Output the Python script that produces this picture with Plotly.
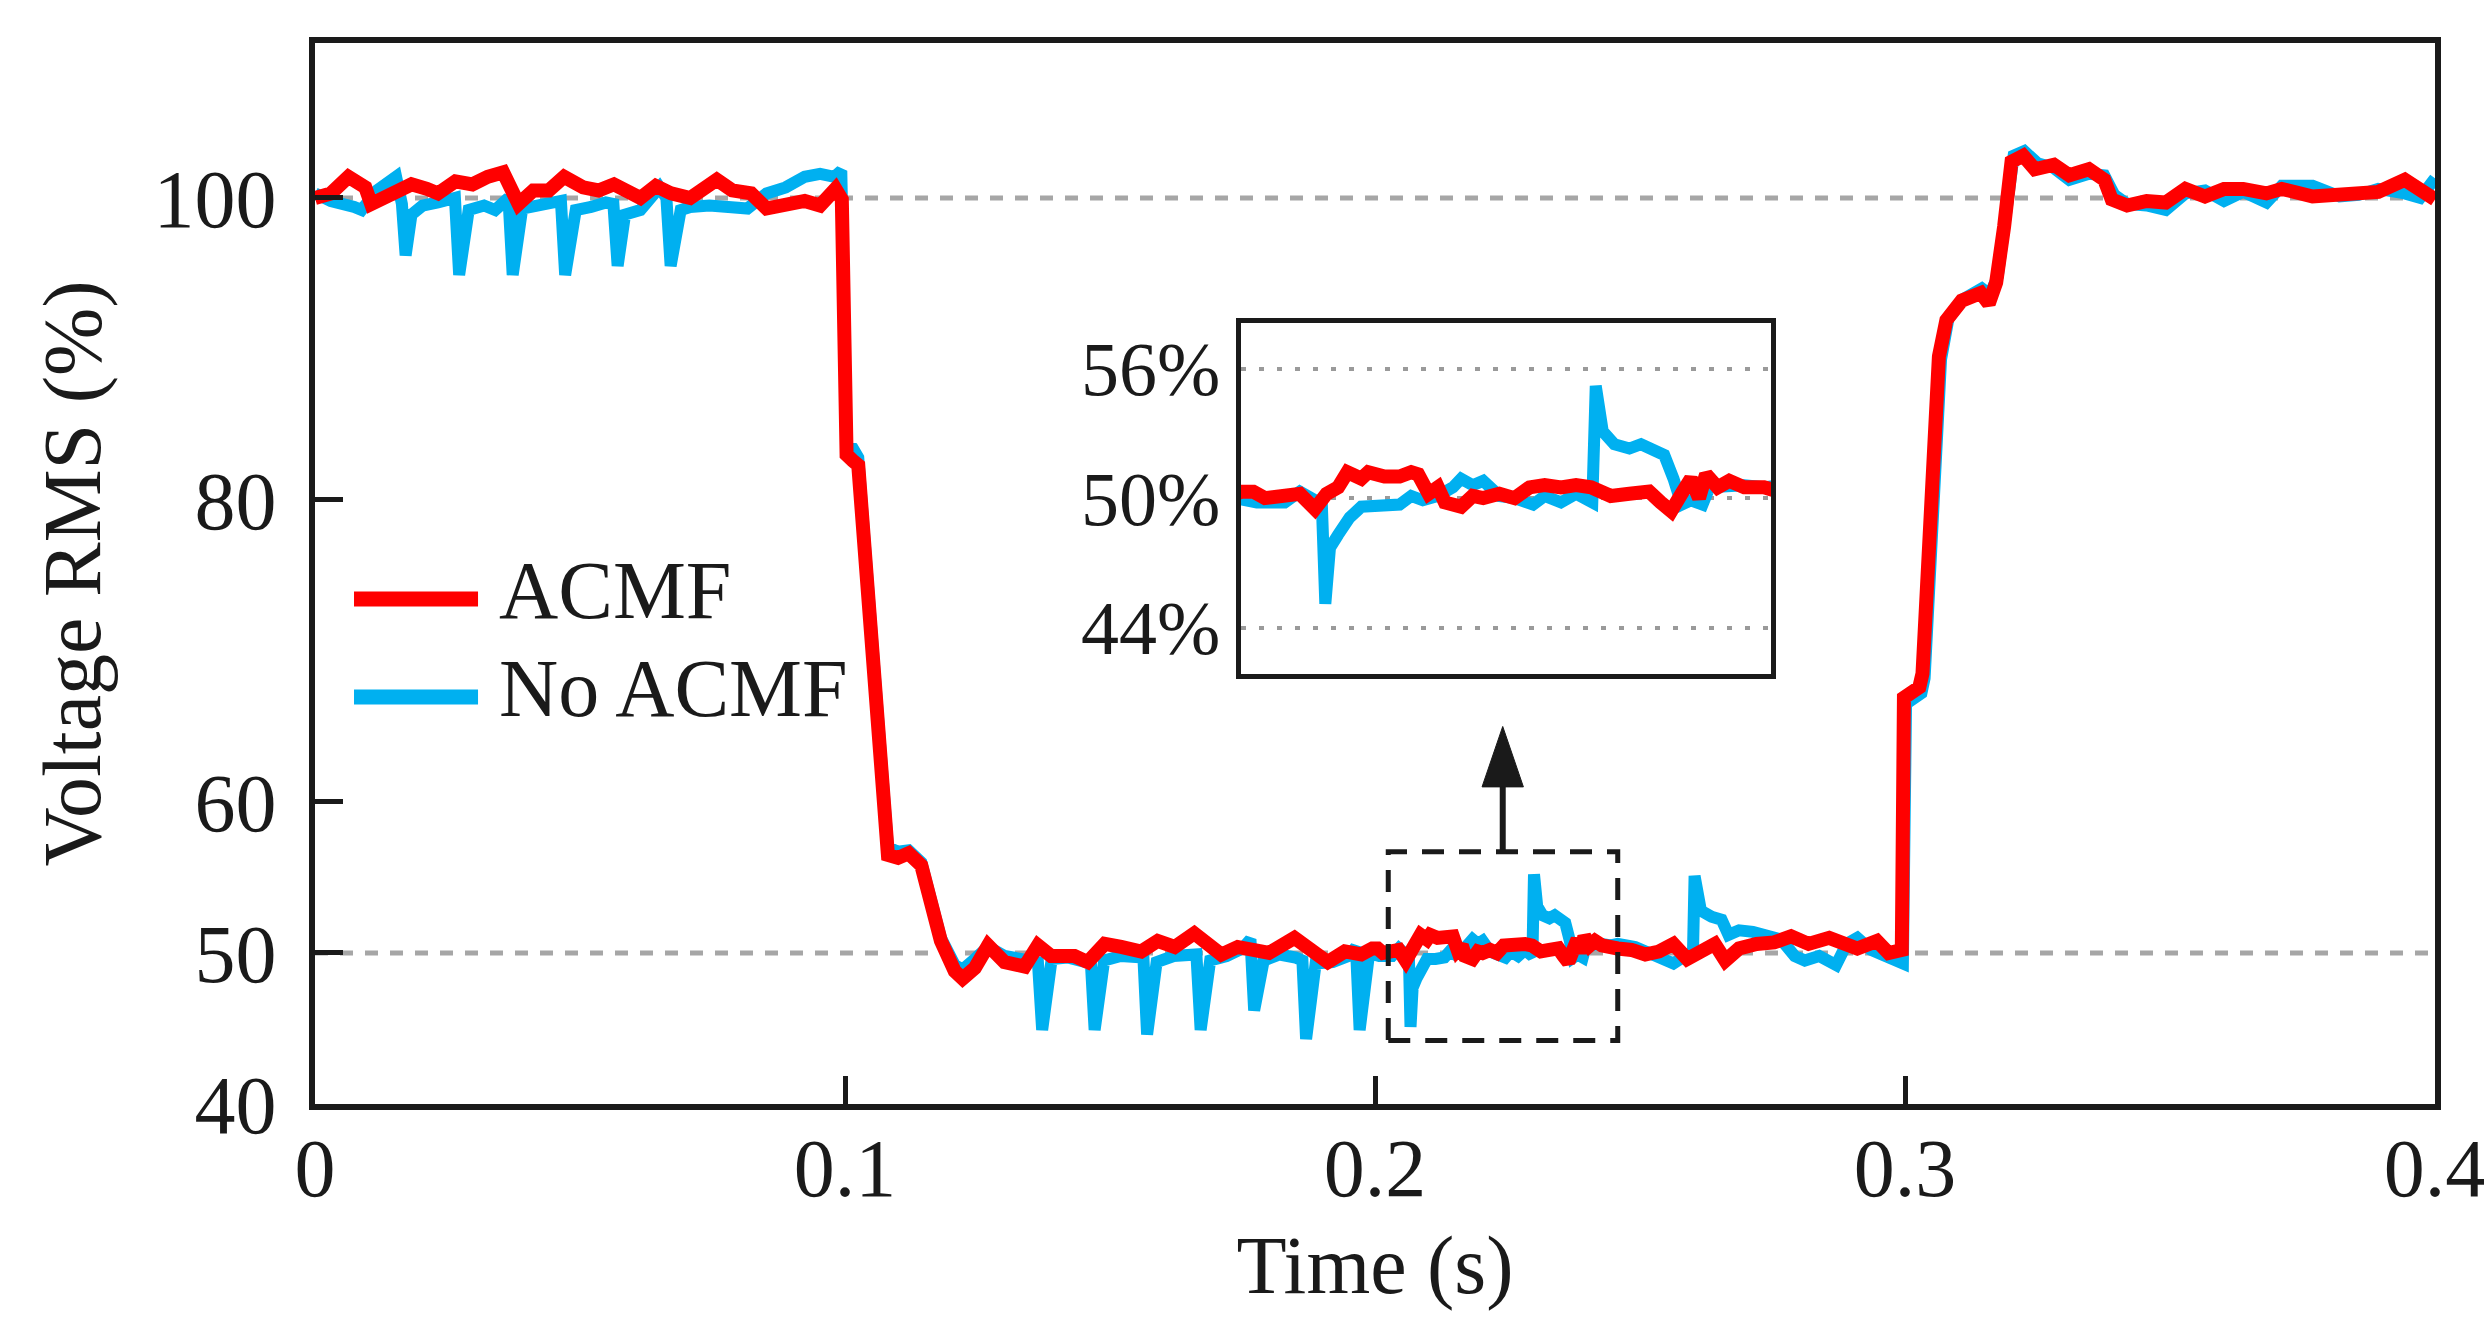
import plotly.graph_objects as go

# ─────────────────────────────────────────────
# Data (RMS voltage in % of nominal)
# ─────────────────────────────────────────────

t_acmf = [
    0.0000, 0.0030, 0.0063, 0.0095, 0.0106, 0.0131, 0.0160, 0.0182, 0.0211, 0.0232,
    0.0265, 0.0297, 0.0326, 0.0355, 0.0384, 0.0412, 0.0441, 0.0470, 0.0506, 0.0535,
    0.0564, 0.0592, 0.0614, 0.0643, 0.0672, 0.0708, 0.0758, 0.0787, 0.0823, 0.0852,
    0.0888, 0.0924, 0.0953, 0.0982, 0.0994, 0.1003, 0.1015, 0.1025, 0.1081, 0.1100,
    0.1120, 0.1144, 0.1181, 0.1207, 0.1222, 0.1245, 0.1270, 0.1301, 0.1339, 0.1364,
    0.1389, 0.1433, 0.1458, 0.1490, 0.1521, 0.1559, 0.1590, 0.1622, 0.1659, 0.1685,
    0.1710, 0.1741, 0.1773, 0.1800, 0.1848, 0.1886, 0.1911, 0.1943, 0.1974, 0.1995,
    0.2005, 0.2015, 0.2032, 0.2045, 0.2058, 0.2068, 0.2078, 0.2086, 0.2098, 0.2104,
    0.2118, 0.2131, 0.2141, 0.2147, 0.2156, 0.2164, 0.2170, 0.2184, 0.2194, 0.2203,
    0.2217, 0.2230, 0.2243, 0.2256, 0.2270, 0.2283, 0.2296, 0.2313, 0.2329, 0.2346,
    0.2356, 0.2365, 0.2375, 0.2382, 0.2389, 0.2395, 0.2405, 0.2415, 0.2428, 0.2445,
    0.2458, 0.2484, 0.2510, 0.2536, 0.2563, 0.2589, 0.2615, 0.2641, 0.2661, 0.2687,
    0.2720, 0.2753, 0.2785, 0.2818, 0.2857, 0.2884, 0.2910, 0.2947, 0.2969, 0.2994,
    0.2998, 0.3027, 0.3033, 0.3064, 0.3078, 0.3107, 0.3143, 0.3158, 0.3172, 0.3187,
    0.3201, 0.3223, 0.3245, 0.3281, 0.3310, 0.3347, 0.3376, 0.3390, 0.3419, 0.3456,
    0.3492, 0.3529, 0.3566, 0.3602, 0.3638, 0.3682, 0.3711, 0.3769, 0.3820, 0.3856,
    0.3893, 0.3943, 0.3972, 0.4000,
]
v_acmf = [
    100.0, 100.3, 101.4, 100.7, 99.6, 100.0, 100.3, 100.9, 100.6, 100.3,
    101.1, 100.9, 101.4, 101.7, 99.6, 100.5, 100.5, 101.4, 100.7, 100.5,
    100.9, 100.3, 100.0, 100.8, 100.3, 100.0, 101.2, 100.5, 100.3, 99.3,
    99.5, 99.8, 99.5, 100.6, 99.9, 83.0, 82.6, 82.3, 56.5, 56.3,
    56.6, 55.8, 50.8, 48.8, 48.3, 49.0, 50.5, 49.4, 49.1, 50.5,
    49.8, 49.8, 49.4, 50.6, 50.4, 50.1, 50.8, 50.4, 51.3, 50.7,
    49.9, 50.4, 50.2, 50.0, 51.0, 50.0, 49.4, 50.1, 49.9, 50.3,
    50.3, 50.0, 50.1, 50.2, 49.5, 50.2, 50.5, 51.2, 50.9, 51.2,
    51.0, 51.0, 51.2, 51.1, 50.2, 50.5, 49.8, 49.6, 50.1, 50.0,
    50.2, 50.0, 50.5, 50.6, 50.5, 50.6, 50.5, 50.1, 50.2, 50.3,
    49.8, 49.4, 50.3, 50.9, 50.0, 51.1, 50.5, 50.8, 50.5, 50.5,
    50.3, 50.2, 49.9, 50.1, 50.6, 49.6, 50.1, 50.6, 49.5, 50.3,
    50.6, 50.7, 51.1, 50.6, 51.0, 50.7, 50.3, 50.8, 50.0, 50.2,
    66.9, 67.6, 68.5, 89.5, 91.9, 93.2, 93.7, 93.0, 94.4, 98.1,
    102.4, 102.8, 101.9, 102.2, 101.5, 101.9, 101.2, 99.9, 99.5, 99.8,
    99.7, 100.6, 100.1, 100.6, 100.6, 100.3, 100.6, 100.1, 100.3, 100.4,
    100.4, 101.2, 100.4, 99.9,
]

t_no_acmf = [
    0.0000, 0.0030, 0.0074, 0.0088, 0.0117, 0.0153, 0.0164, 0.0171, 0.0182, 0.0203,
    0.0232, 0.0264, 0.0272, 0.0290, 0.0319, 0.0340, 0.0365, 0.0373, 0.0391, 0.0420,
    0.0448, 0.0464, 0.0472, 0.0492, 0.0521, 0.0549, 0.0563, 0.0571, 0.0585, 0.0614,
    0.0650, 0.0663, 0.0671, 0.0690, 0.0708, 0.0744, 0.0780, 0.0816, 0.0852, 0.0888,
    0.0924, 0.0953, 0.0980, 0.0993, 0.1003, 0.1015, 0.1025, 0.1081, 0.1100, 0.1120,
    0.1144, 0.1181, 0.1207, 0.1222, 0.1245, 0.1270, 0.1301, 0.1339, 0.1364, 0.1372,
    0.1390, 0.1420, 0.1450, 0.1464, 0.1471, 0.1489, 0.1520, 0.1550, 0.1563, 0.1570,
    0.1588, 0.1620, 0.1650, 0.1663, 0.1671, 0.1689, 0.1720, 0.1750, 0.1765, 0.1772,
    0.1790, 0.1820, 0.1850, 0.1863, 0.1870, 0.1888, 0.1920, 0.1950, 0.1964, 0.1971,
    0.1989, 0.2008, 0.2032, 0.2045, 0.2058, 0.2064, 0.2067, 0.2071, 0.2078, 0.2088,
    0.2098, 0.2114, 0.2131, 0.2141, 0.2151, 0.2164, 0.2177, 0.2184, 0.2194, 0.2203,
    0.2217, 0.2230, 0.2246, 0.2256, 0.2270, 0.2283, 0.2297, 0.2300, 0.2306, 0.2316,
    0.2329, 0.2339, 0.2352, 0.2359, 0.2367, 0.2374, 0.2382, 0.2392, 0.2398, 0.2412,
    0.2428, 0.2445, 0.2458, 0.2491, 0.2530, 0.2563, 0.2589, 0.2600, 0.2603, 0.2615,
    0.2635, 0.2654, 0.2667, 0.2687, 0.2713, 0.2746, 0.2766, 0.2792, 0.2811, 0.2838,
    0.2870, 0.2890, 0.2910, 0.2936, 0.2975, 0.2996, 0.3002, 0.3031, 0.3037, 0.3068,
    0.3082, 0.3110, 0.3145, 0.3160, 0.3175, 0.3190, 0.3205, 0.3225, 0.3250, 0.3280,
    0.3310, 0.3347, 0.3376, 0.3395, 0.3419, 0.3456, 0.3492, 0.3529, 0.3566, 0.3602,
    0.3638, 0.3682, 0.3711, 0.3769, 0.3820, 0.3856, 0.3893, 0.3943, 0.3972, 0.4000,
]
v_no_acmf = [
    100.3, 99.8, 99.4, 99.2, 100.5, 101.4, 99.6, 96.2, 98.9, 99.5,
    99.7, 100.0, 94.9, 99.2, 99.5, 99.2, 100.0, 94.9, 99.3, 99.5,
    99.8, 99.8, 94.9, 99.2, 99.4, 99.7, 99.6, 95.5, 98.9, 99.2,
    100.7, 100.0, 95.5, 99.2, 99.4, 99.5, 99.4, 99.3, 100.3, 100.7,
    101.4, 101.6, 101.4, 101.8, 83.5, 83.4, 82.8, 57.0, 56.7, 56.8,
    56.0, 51.0, 49.2, 48.9, 49.6, 50.4, 49.8, 49.5, 49.4, 44.9,
    49.6, 49.7, 49.4, 49.3, 44.9, 49.5, 49.8, 49.6, 49.7, 44.6,
    49.4, 49.8, 50.0, 49.9, 44.9, 49.5, 49.8, 50.3, 50.9, 46.2,
    49.5, 49.9, 49.7, 49.5, 44.3, 49.3, 49.4, 49.8, 50.4, 44.9,
    50.0, 49.8, 49.8, 50.3, 49.9, 49.7, 45.1, 47.7, 48.3, 49.1,
    49.6, 49.6, 49.7, 50.1, 49.9, 50.1, 50.5, 50.9, 50.6, 50.8,
    50.1, 50.0, 49.7, 50.1, 49.8, 50.2, 49.8, 55.2, 53.1, 52.5,
    52.3, 52.5, 52.2, 52.0, 50.9, 49.7, 49.9, 49.7, 50.5, 50.6,
    50.6, 50.5, 50.6, 50.4, 49.7, 49.3, 49.9, 50.1, 55.1, 52.8,
    52.4, 52.2, 51.2, 51.5, 51.4, 51.2, 50.9, 49.8, 49.5, 49.8,
    49.2, 50.6, 51.0, 50.2, 49.6, 49.3, 66.5, 67.2, 68.2, 89.3,
    92.0, 93.3, 94.0, 93.6, 94.8, 98.5, 102.8, 103.1, 102.3, 102.0,
    101.2, 101.6, 101.5, 100.2, 99.6, 99.5, 99.2, 100.3, 100.5, 99.8,
    100.4, 99.7, 100.8, 100.8, 100.1, 100.2, 100.6, 100.3, 100.0, 101.3,
]

x_ticks      = [0, 0.1, 0.2, 0.3, 0.4]
x_tick_text  = ["0", "0.1", "0.2", "0.3", "0.4"]
y_ticks      = [40, 50, 60, 80, 100]
inset_ticks  = [44, 50, 56]
inset_text   = ["44%", "50%", "56%"]
ref_levels   = [100, 50]

RED  = "#FF0000"
BLUE = "#00B0F0"
INK  = "#1a1a1a"
FONT = "Liberation Serif"

# ─────────────────────────────────────────────
# Traces: main plot + zoomed inset (same data)
# ─────────────────────────────────────────────

fig = go.Figure()

for xa, ya in [("x", "y"), ("x2", "y2")]:
    fig.add_trace(go.Scatter(
        x = t_no_acmf, y = v_no_acmf, mode = "lines", name = "No ACMF",
        line = dict(color=BLUE, width=12), xaxis = xa, yaxis = ya,
    ))
    fig.add_trace(go.Scatter(
        x = t_acmf, y = v_acmf, mode = "lines", name = "ACMF",
        line = dict(color=RED, width=14), xaxis = xa, yaxis = ya,
    ))

# dashed reference levels (100 % and 50 %)
for lvl in ref_levels:
    fig.add_shape(
        type = "line", xref = "x", yref = "y",
        x0 = 0, x1 = 0.4, y0 = lvl, y1 = lvl,
        line = dict(color="#a6a6a6", width=5, dash="13px,12px"),
        layer = "below",
    )

# zoom window + arrow to inset
fig.add_shape(
    type = "rect", xref = "x", yref = "y",
    x0 = 0.2025, x1 = 0.2458, y0 = 44.2, y1 = 56.7,
    line = dict(color=INK, width=5, dash="22px,15px"),
)
fig.add_shape(
    type = "line", xref = "x", yref = "y",
    x0 = 0.2241, x1 = 0.2241, y0 = 56.7, y1 = 61.2,
    line = dict(color=INK, width=6),
)
fig.add_shape(
    type = "path", xref = "x", yref = "y",
    path = "M 0.2202 61.0 L 0.2280 61.0 L 0.2241 65.0 Z",
    fillcolor = INK, line = dict(color=INK, width=1),
)

# hand-drawn legend (long line samples like the original)
for y_leg, col, label in [(0.4840, RED, "ACMF"), (0.3915, BLUE, "No ACMF")]:
    fig.add_shape(
        type = "line", xref = "paper", yref = "paper",
        x0 = 0.0184, x1 = 0.0769, y0 = y_leg - 0.008, y1 = y_leg - 0.008,
        line = dict(color=col, width=15),
    )
    fig.add_annotation(
        x = 0.0858, y = y_leg, xref = "paper", yref = "paper",
        text = label, showarrow = False, xanchor = "left", yanchor = "middle",
        font = dict(family=FONT, size=82, color=INK),
    )

# ─────────────────────────────────────────────
# Layout
# ─────────────────────────────────────────────

axis_common = dict(
    showline  = True,
    linecolor = INK,
    mirror    = True,
    showgrid  = False,
    zeroline  = False,
)

fig.update_layout(
    width         = 2492,
    height        = 1332,
    margin        = dict(l=307, r=65, t=35, b=236),
    paper_bgcolor = "white",
    plot_bgcolor  = "white",
    showlegend    = False,
    font          = dict(family=FONT, size=82, color=INK),
    xaxis = dict(
        **axis_common,
        linewidth = 6,
        range     = [0, 0.4],
        tickvals  = x_ticks,
        ticktext  = x_tick_text,
        ticks     = "inside",
        ticklen   = 28,
        tickwidth = 5,
        tickcolor = INK,
        ticklabelstandoff = -12,
        title     = dict(text="Time (s)", standoff=24, font=dict(size=82)),
    ),
    yaxis = dict(
        **axis_common,
        linewidth = 6,
        range     = [40, 110.26],
        tickvals  = y_ticks,
        ticks     = "inside",
        ticklen   = 28,
        tickwidth = 5,
        tickcolor = INK,
        ticklabelstandoff = 16,
        title     = dict(text="Voltage RMS (%)", standoff=28, font=dict(size=82)),
    ),
    xaxis2 = dict(
        **axis_common,
        linewidth      = 5,
        domain         = [0.4366, 0.6868],
        anchor         = "y2",
        range          = [0.1994, 0.2451],
        showticklabels = False,
        ticks          = "",
    ),
    yaxis2 = dict(
        **{**axis_common, "showgrid": True},
        linewidth = 5,
        domain    = [0.4052, 0.7363],
        anchor    = "x2",
        range     = [41.84, 58.13],
        tickvals  = inset_ticks,
        ticktext  = inset_text,
        ticks     = "",
        tickfont  = dict(size=76),
        ticklabelstandoff = 0,
        gridcolor = "#9a9a9a",
        gridwidth = 4,
        griddash  = "5px,13px",
    ),
)

fig.write_html("out.html")
print("Saved: out.html")
